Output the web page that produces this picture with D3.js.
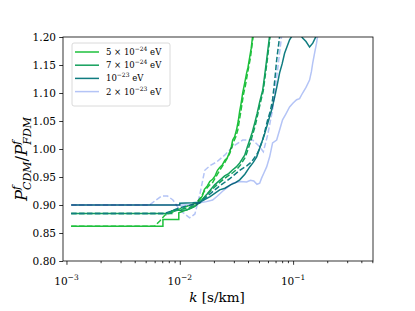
<!DOCTYPE html>
<html><head><meta charset="utf-8">
<script src="https://cdn.jsdelivr.net/npm/d3@7"></script>
<style>body{margin:0;background:#fff}svg{display:block}</style>
</head><body><svg id="c" width="415" height="311"></svg>
<script>
// ---- data ----
const masses = ["5e-24", "7e-24", "1e-23", "2e-23"];
const colors = ["#1ec03c", "#13a05c", "#107c80", "#b4c4f6"];
const legendMant = ["5 \u00d7 10", "7 \u00d7 10", "10", "2 \u00d7 10"];
const legendExp = ["\u221224", "\u221224", "\u221223", "\u221223"];
const yTicks = [0.80, 0.85, 0.90, 0.95, 1.00, 1.05, 1.10, 1.15, 1.20];
const xMajor = [1e-3, 1e-2, 1e-1];
const xMajorExp = ["\u22123", "\u22122", "\u22121"];

const s5k = [0.0011,0.0071,0.0071,0.0098,0.0098,0.0125,0.0140,0.0150,0.0158,0.0165,0.0175,0.0184,0.0195,0.0205,0.0215,0.0225,0.0238,0.0250,0.0262,0.0276,0.0285,0.0293,0.0305,0.0318,0.0328,0.0338,0.0348,0.0359,0.0374,0.0389,0.0400,0.0414,0.0427,0.0440];
const s5v = [0.862,0.862,0.874,0.874,0.886,0.894,0.900,0.909,0.916,0.928,0.934,0.942,0.946,0.952,0.962,0.967,0.972,0.980,0.984,0.995,1.004,1.016,1.022,1.036,1.050,1.068,1.082,1.100,1.118,1.136,1.146,1.164,1.180,1.203];
const d5k = [0.0011,0.0060,0.0067,0.0074,0.0100,0.0141,0.0155,0.0165,0.0184,0.0195,0.0205,0.0225,0.0250,0.0276,0.0300,0.0312,0.0325,0.0345,0.0365,0.0380,0.0395,0.0420,0.0445];
const d5v = [0.862,0.862,0.872,0.882,0.893,0.904,0.915,0.925,0.936,0.940,0.948,0.962,0.976,0.992,1.014,1.022,1.034,1.066,1.098,1.114,1.134,1.163,1.203];

const s7k = [0.0011,0.0085,0.0085,0.0115,0.0135,0.0150,0.0175,0.0203,0.0225,0.0249,0.0270,0.0290,0.0315,0.0338,0.0355,0.0374,0.0395,0.0414,0.0436,0.0458,0.0482,0.0507,0.0539,0.0560,0.0584,0.0621];
const s7v = [0.885,0.885,0.890,0.891,0.897,0.905,0.920,0.936,0.944,0.952,0.956,0.962,0.968,0.975,0.982,0.989,1.004,1.016,1.030,1.046,1.064,1.084,1.105,1.130,1.159,1.203];
const d7k = [0.0011,0.0080,0.0095,0.0120,0.0150,0.0180,0.0210,0.0250,0.0295,0.0320,0.0345,0.0380,0.0420,0.0465,0.0512,0.0545,0.0590,0.0628];
const d7v = [0.885,0.885,0.891,0.895,0.904,0.922,0.935,0.948,0.958,0.964,0.972,0.986,1.012,1.043,1.081,1.104,1.157,1.203];

const s10k = [0.0011,0.0100,0.0100,0.0130,0.0150,0.0185,0.0225,0.0250,0.0280,0.0310,0.0338,0.0375,0.0414,0.0445,0.0477,0.0527,0.0555,0.0584,0.0615,0.0647,0.0688,0.0720,0.0760,0.0800,0.0841,0.0931,0.1000,0.1060,0.1130,0.1213,0.1300,0.1397,0.1491,0.1610];
const s10v = [0.900,0.900,0.903,0.904,0.905,0.915,0.927,0.930,0.936,0.940,0.945,0.955,0.968,0.976,0.986,1.011,1.024,1.039,1.055,1.070,1.093,1.112,1.136,1.152,1.171,1.195,1.205,1.212,1.208,1.198,1.192,1.182,1.189,1.203];
const d10k = [0.0011,0.0074,0.0100,0.0125,0.0150,0.0185,0.0225,0.0280,0.0338,0.0390,0.0430,0.0487,0.0539,0.0596,0.0630,0.0659,0.0690,0.0716,0.0765];
const d10v = [0.885,0.885,0.895,0.900,0.904,0.920,0.934,0.948,0.962,0.970,0.977,0.993,1.016,1.052,1.068,1.088,1.124,1.159,1.205];

const s20k = [0.0011,0.0125,0.0150,0.0172,0.0195,0.0215,0.0240,0.0265,0.0293,0.0340,0.0389,0.0420,0.0450,0.0480,0.0507,0.0527,0.0555,0.0584,0.0621,0.0659,0.0716,0.0760,0.0807,0.0860,0.0931,0.1000,0.1074,0.1140,0.1213,0.1300,0.1397,0.1450,0.1491,0.1550,0.1610,0.1650];
const s20v = [0.900,0.900,0.904,0.906,0.909,0.916,0.925,0.932,0.939,0.942,0.941,0.944,0.943,0.937,0.939,0.948,0.958,0.968,0.986,1.011,1.016,1.034,1.052,1.062,1.075,1.082,1.088,1.090,1.100,1.110,1.123,1.138,1.154,1.172,1.189,1.203];
const d20k = [0.0011,0.0054,0.0060,0.0069,0.0078,0.0087,0.0100,0.0122,0.0136,0.0150,0.0166,0.0184,0.0212,0.0249,0.0293,0.0359,0.0440,0.0507,0.0546,0.0596,0.0659,0.0729,0.0795];
const d20v = [0.900,0.900,0.907,0.916,0.916,0.909,0.891,0.877,0.884,0.918,0.962,0.970,0.977,0.989,1.004,1.016,1.016,1.004,0.995,1.025,1.070,1.141,1.205];

const series = [
  {k:s5k, v:s5v, c:0, dash:false}, {k:d5k, v:d5v, c:0, dash:true},
  {k:s7k, v:s7v, c:1, dash:false}, {k:d7k, v:d7v, c:1, dash:true},
  {k:s10k, v:s10v, c:2, dash:false}, {k:d10k, v:d10v, c:2, dash:true},
  {k:s20k, v:s20v, c:3, dash:false}, {k:d20k, v:d20v, c:3, dash:true}
];

// ---- layout ----
const L = 63, R = 373, T = 37, B = 261;
const svg = d3.select("#c");
const x = d3.scaleLog().domain([0.000932, 0.507]).range([L, R]);
const y = d3.scaleLinear().domain([0.80, 1.20]).range([B, T]);
const serif = "DejaVu Serif, Liberation Serif, serif";

svg.append("clipPath").attr("id","clip").append("rect")
  .attr("x", L).attr("y", T).attr("width", R-L).attr("height", B-T);

const line = d3.line().x(d => x(d[0])).y(d => y(d[1]));
const g = svg.append("g").attr("clip-path","url(#clip)");
series.forEach(s => {
  const pts = s.k.map((k,i) => [k, s.v[i]]);
  g.append("path").attr("d", line(pts)).attr("fill","none")
    .attr("stroke", colors[s.c]).attr("stroke-width", 1.5)
    .attr("stroke-dasharray", s.dash ? "5.5,2.4" : null)
    .style("mix-blend-mode", s.c === 3 ? "multiply" : null);
});

// axes
const minor = [];
for (let e = -3; e <= -1; e++) for (let m = 2; m <= 9; m++) { const v = m*Math.pow(10,e); if (v <= 0.507) minor.push(v); }
const ax = svg.append("g").attr("transform",`translate(0,${B})`);
ax.call(d3.axisBottom(x).tickValues(minor).tickSize(2.2).tickFormat("").tickSizeOuter(0));
const axM = svg.append("g").attr("transform",`translate(0,${B})`);
axM.call(d3.axisBottom(x).tickValues(xMajor).tickSize(3.8).tickFormat("").tickSizeOuter(0));
svg.selectAll(".domain").remove();
svg.selectAll(".tick line").attr("stroke","#000").attr("stroke-width",0.8);

xMajor.forEach((v,i) => {
  const t = svg.append("text").attr("x", x(v)).attr("y", 285).attr("text-anchor","middle")
    .attr("font-family", serif).attr("font-size", 10.5);
  t.append("tspan").text("10");
  t.append("tspan").attr("dy", -5).attr("font-size", 7.5).text(xMajorExp[i]);
});

const ay = svg.append("g").attr("transform",`translate(${L},0)`);
ay.call(d3.axisLeft(y).tickValues(yTicks).tickSize(3.8).tickSizeOuter(0).tickFormat(d3.format(".2f")));
ay.select(".domain").remove();
ay.selectAll(".tick line").attr("stroke","#000").attr("stroke-width",0.8);
ay.selectAll(".tick text").attr("font-family", serif).attr("font-size", 10.5).attr("fill","#000").attr("x", -7);

// frame
svg.append("rect").attr("x",L).attr("y",T).attr("width",R-L).attr("height",B-T)
  .attr("fill","none").attr("stroke","#000").attr("stroke-width",0.8);

// labels
const xl = svg.append("text").attr("x", 217).attr("y", 302).attr("text-anchor","middle")
  .attr("font-family", serif).attr("font-size", 13.5);
xl.append("tspan").attr("font-style","italic").text("k");
xl.append("tspan").text(" [s/km]");

const yl = svg.append("text").attr("transform", `translate(27,${(T+B)/2+10}) rotate(-90)`)
  .attr("text-anchor","middle").attr("font-family", serif).attr("font-size", 16.5);
yl.append("tspan").attr("font-style","italic").text("P");
yl.append("tspan").attr("font-style","italic").attr("font-size",11).attr("dy",-7).text("f");
yl.append("tspan").attr("font-style","italic").attr("font-size",11).attr("dx",-4).attr("dy",11).text("CDM");
yl.append("tspan").attr("dy",-4).text("/");
yl.append("tspan").attr("font-style","italic").text("P");
yl.append("tspan").attr("font-style","italic").attr("font-size",11).attr("dy",-7).text("f");
yl.append("tspan").attr("font-style","italic").attr("font-size",11).attr("dx",-4).attr("dy",11).text("FDM");

// legend
const lg = svg.append("g");
lg.append("rect").attr("x",72).attr("y",43).attr("width",98).attr("height",63).attr("rx",2)
  .attr("fill","#fff").attr("fill-opacity",0.8).attr("stroke","#d0d0d0").attr("stroke-width",0.8);
masses.forEach((m,i) => {
  const yy = 52 + i*13.2;
  lg.append("line").attr("x1",75).attr("x2",99).attr("y1",yy).attr("y2",yy)
    .attr("stroke", colors[i]).attr("stroke-width",1.5);
  const t = lg.append("text").attr("x",106).attr("y",yy+3).attr("font-family",serif).attr("font-size",8.5);
  t.append("tspan").text(legendMant[i]);
  t.append("tspan").attr("dy",-4).attr("font-size",6).text(legendExp[i]);
  t.append("tspan").attr("dy",4).text(" eV");
});
</script></body></html>
